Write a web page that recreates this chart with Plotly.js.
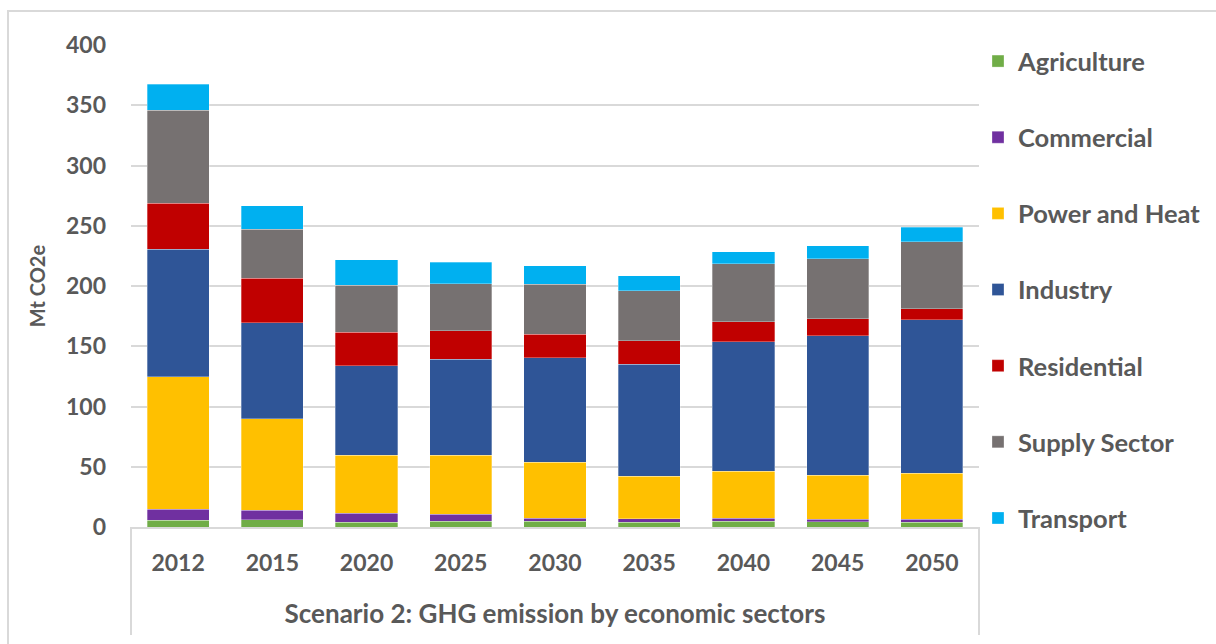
<!DOCTYPE html>
<html>
<head>
<meta charset="utf-8">
<script src="https://cdn.plot.ly/plotly-3.0.1.min.js"></script>
<style>
  html, body { margin: 0; padding: 0; background: #fff; }
  #frame { position: absolute; left: 7px; top: 10px; width: 1300px; height: 700px;
           border-left: 2px solid #d9d9d9; border-top: 2px solid #d9d9d9; }
  #chart { position: absolute; left: 0; top: 0; width: 1216px; height: 644px; }
</style>
</head>
<body>
<div id="frame"></div>
<div id="chart"></div>
<script>
const years = ['2012', '2015', '2020', '2025', '2030', '2035', '2040', '2045', '2050'];

const agriculture  = [5.5, 6.0, 4.1, 4.6, 4.6, 4.1, 4.6, 4.4, 4.1];
const commercial   = [9.1, 8.0, 7.5, 6.1, 2.8, 2.8, 2.5, 2.2, 2.5];
const powerHeat    = [110.0, 76.0, 47.8, 48.7, 46.2, 35.3, 39.0, 36.4, 38.1];
const industry     = [105.8, 79.4, 74.6, 79.8, 87.0, 92.9, 107.5, 115.9, 127.4];
const residential  = [38.2, 37.0, 27.6, 23.8, 19.4, 19.4, 16.9, 13.8, 8.9];
const supplySector = [77.1, 40.9, 39.0, 38.7, 41.4, 41.4, 47.8, 50.0, 55.6];
const transport    = [21.9, 19.4, 21.0, 18.0, 15.3, 12.5, 10.0, 10.8, 12.1];

const seriesNames = ['Agriculture', 'Commercial', 'Power and Heat', 'Industry', 'Residential', 'Supply Sector', 'Transport'];
const seriesData  = [agriculture, commercial, powerHeat, industry, residential, supplySector, transport];
const seriesColors = ['#70AD47', '#7030A0', '#FFC000', '#2F5597', '#C00000', '#767171', '#00B0F0'];

const yTicks = [0, 50, 100, 150, 200, 250, 300, 350, 400];
const xTitle = 'Scenario 2: GHG emission by economic sectors';
const yTitle = 'Mt CO2e';

const FONT = 'Lato, "Open Sans", sans-serif';
const TXT = '#595959';

const traces = seriesNames.map((name, i) => ({
  type: 'bar',
  name: name,
  x: years,
  y: seriesData[i],
  legendgroup: name,
  marker: { color: seriesColors[i], line: { width: 0.6, color: 'rgba(255,255,255,0.5)' } },
  hoverinfo: 'x+y+name'
}));

const L = 131, R = 979, T = 45, B = 527, W = 1216, H = 644;

const layout = {
  width: W, height: H,
  paper_bgcolor: 'rgba(0,0,0,0)',
  plot_bgcolor: 'rgba(0,0,0,0)',
  barmode: 'stack',
  bargap: 0.34,
  margin: { l: L, r: W - R, t: T, b: H - B, pad: 0, autoexpand: false },
  font: { family: FONT, color: TXT, size: 23, weight: 'bold' },
  showlegend: true,
  legend: {
    x: (978 - L) / (R - L), xanchor: 'left',
    y: (527 - 38) / (B - T), yanchor: 'top',
    traceorder: 'grouped',
    tracegroupgap: 40,
    maxheight: 620,
    font: { family: FONT, color: TXT, size: 25.5, weight: 'bold' },
    bgcolor: 'rgba(0,0,0,0)',
    itemclick: false
  },
  xaxis: {
    type: 'category',
    showgrid: false,
    showline: true,
    linecolor: '#d9d9d9',
    linewidth: 2,
    ticks: '',
    ticklabelstandoff: 14,
    tickfont: { family: FONT, color: TXT, size: 23, weight: 'bold' },
    title: { text: xTitle, standoff: 30, font: { family: FONT, color: TXT, size: 26, weight: 'bold' } },
    fixedrange: true
  },
  yaxis: {
    range: [0, 400],
    tickvals: yTicks,
    ticktext: yTicks.map(String),
    showgrid: true,
    gridcolor: '#d9d9d9',
    gridwidth: 2,
    zeroline: false,
    showline: false,
    ticks: '',
    ticklabelstandoff: 24,
    tickfont: { family: FONT, color: TXT, size: 23, weight: 'bold' },
    title: { text: yTitle, standoff: 14, font: { family: FONT, color: TXT, size: 20, weight: 'bold' } },
    fixedrange: true
  },
  shapes: [
    { type: 'line', xref: 'paper', yref: 'paper', x0: 0, x1: 0, y0: 0, y1: -(635 - B) / (B - T),
      line: { color: '#d9d9d9', width: 2 } },
    { type: 'line', xref: 'paper', yref: 'paper', x0: 1, x1: 1, y0: 0, y1: -(635 - B) / (B - T),
      line: { color: '#d9d9d9', width: 2 } }
  ]
};

Plotly.newPlot('chart', traces, layout, { displayModeBar: false, staticPlot: true });
</script>
</body>
</html>
